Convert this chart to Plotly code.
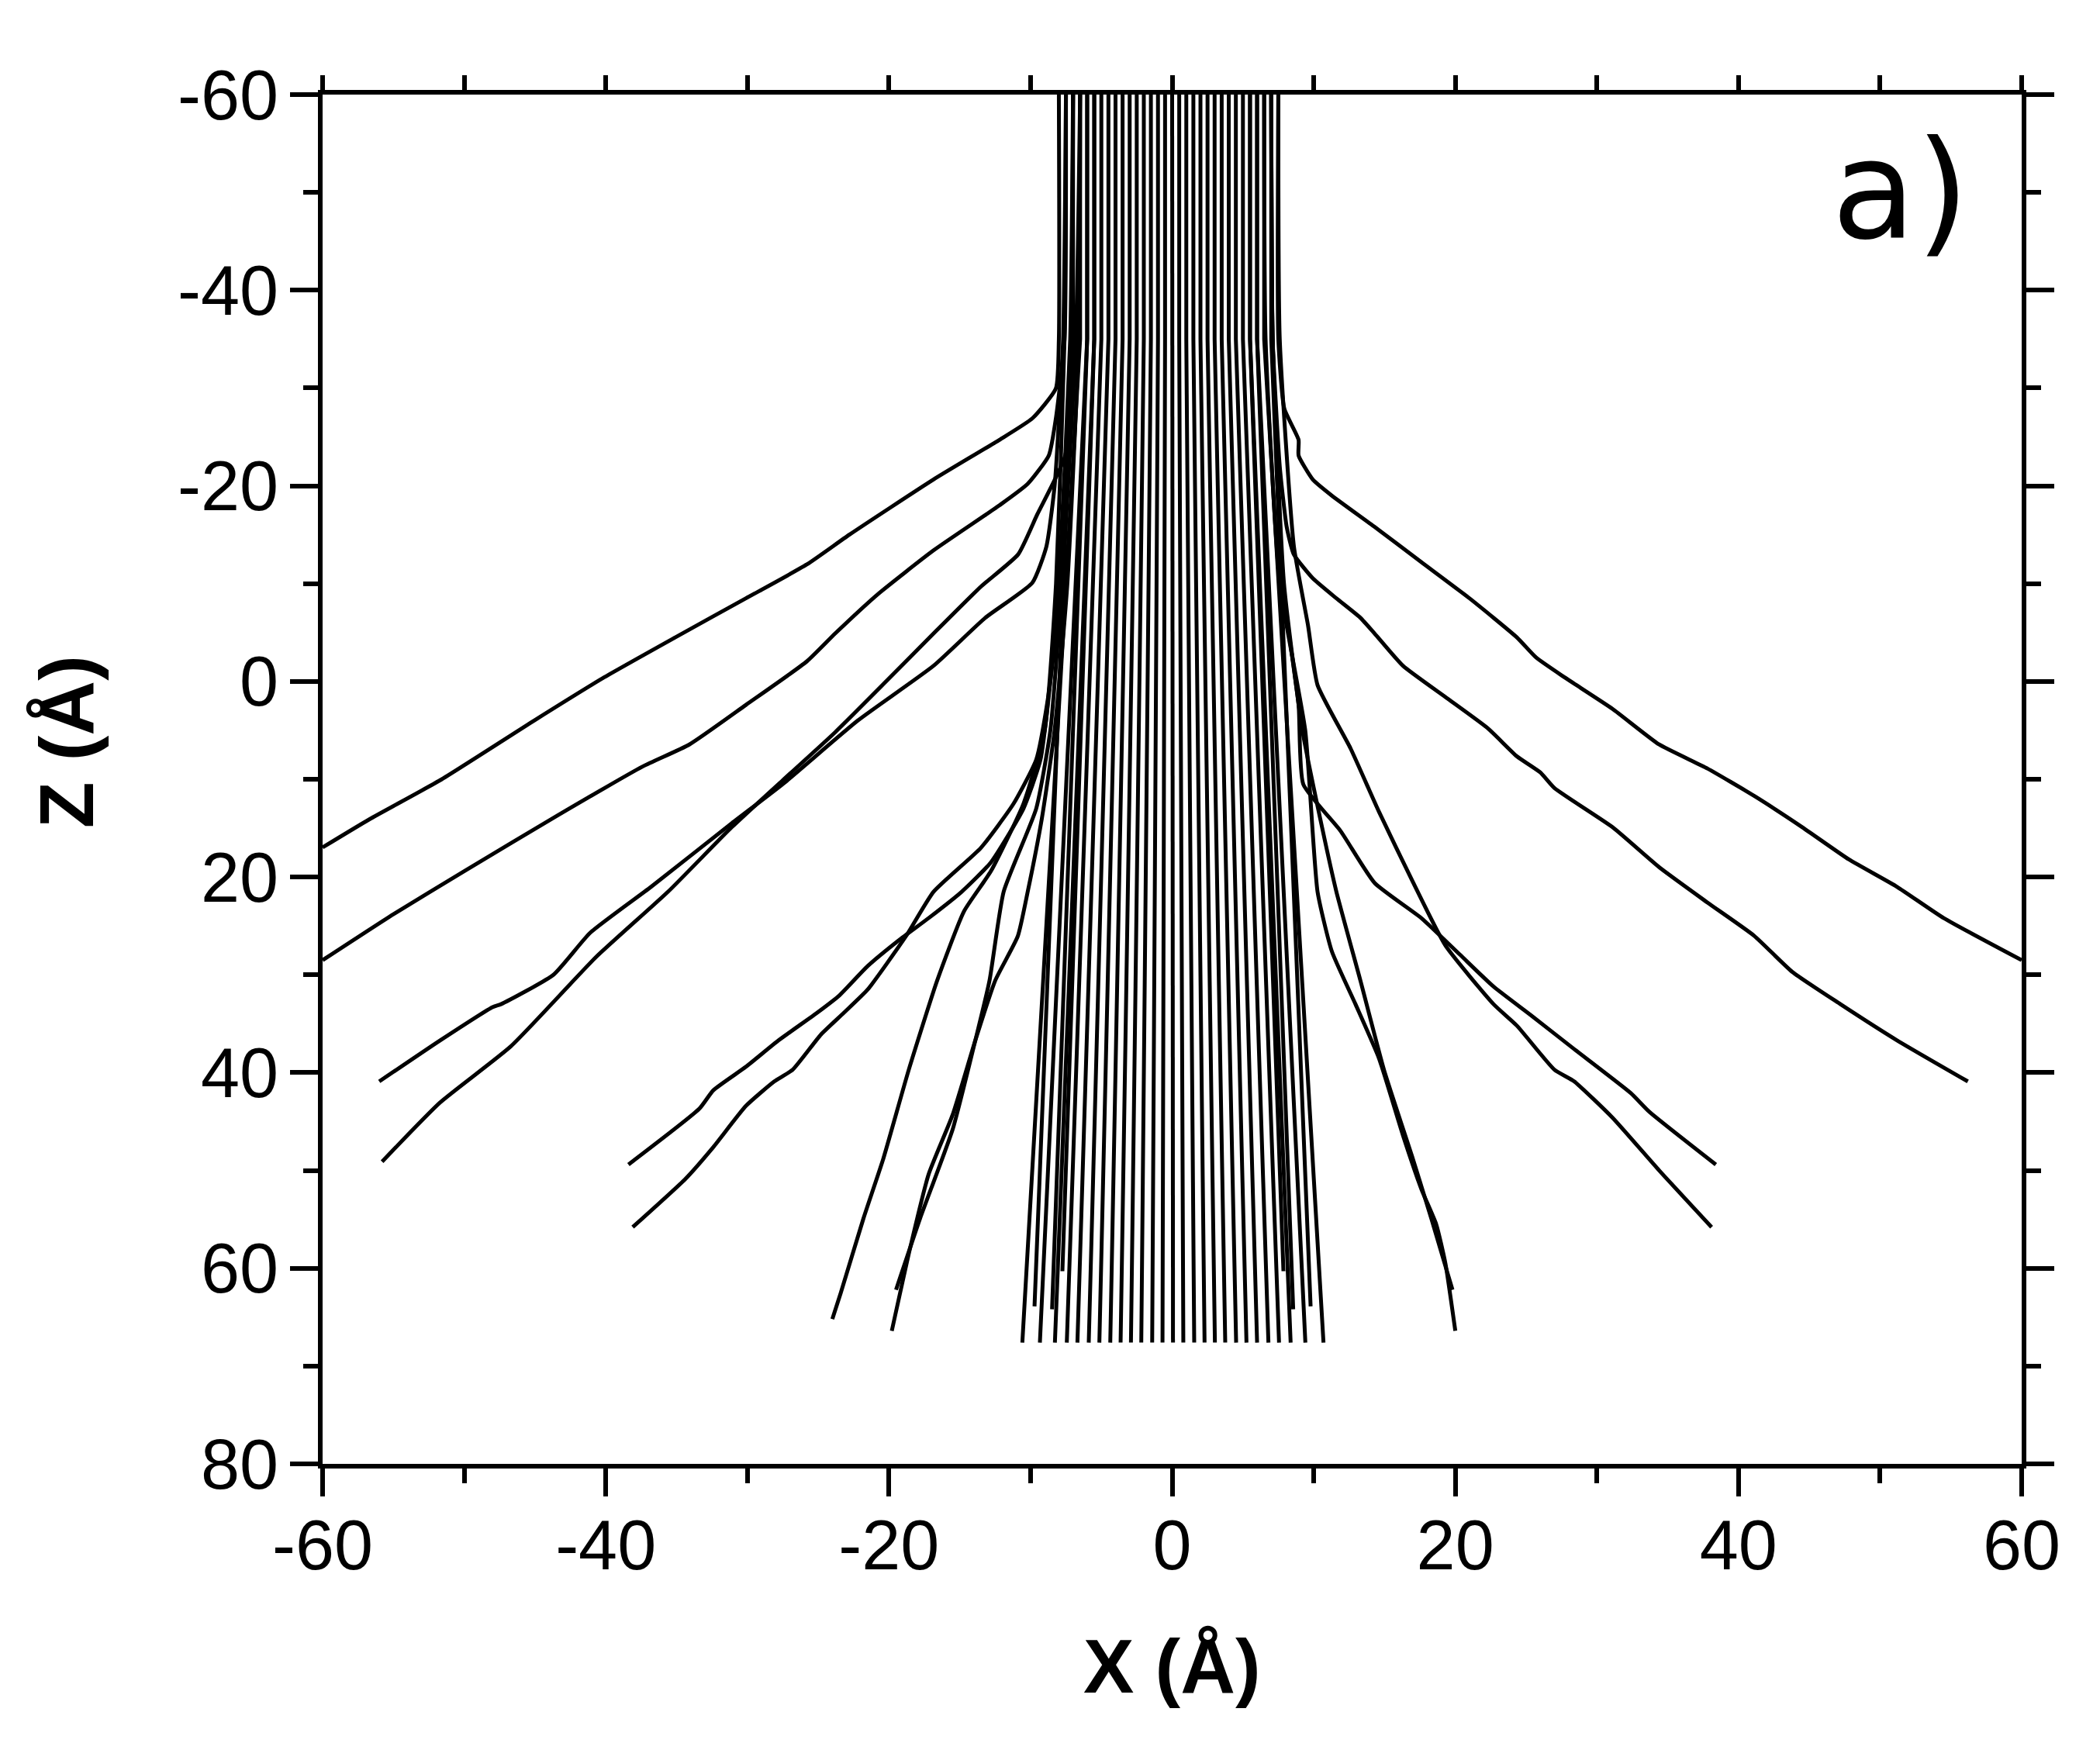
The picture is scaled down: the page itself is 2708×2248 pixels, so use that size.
import plotly.graph_objects as go

# ---------------- data (Å) ----------------
X_TICKS = [-60, -40, -20, 0, 20, 40, 60]
X_TICKTEXT = ["-60", "-40", "-20", "0", "20", "40", "60"]
Z_TICKS = [-60, -40, -20, 0, 20, 40, 60, 80]
Z_TICKTEXT = ["-60", "-40", "-20", "0", "20", "40", "60", "80"]

# channelled beam: entry x, exit x (all enter at z=-60, stay straight to z=-35, exit at z=67.6)
BEAM_ENTRY_Z = -60.0
BEAM_KNEE_Z = -35.0
BEAM_EXIT_Z = 67.6
BEAM_X0 = [-6.5, -6.0, -5.5, -5.0, -4.5, -4.0, -3.5, -3.0, -2.5, -2.0, -1.5, -1.0, -0.5, 0.0,
           0.5, 1.0, 1.5, 2.0, 2.5, 3.0, 3.5, 4.0, 4.5, 5.0, 5.5, 6.0, 6.5]
BEAM_X_END = [-10.58, -9.34, -8.28, -7.44, -6.69, -5.89, -5.14, -4.37, -3.64, -2.91, -2.18, -1.41,
              -0.68, 0.06, 0.79, 1.56, 2.29, 3.02, 3.75, 4.52, 5.25, 6.00, 6.80, 7.55, 8.37, 9.41, 10.69]

# trajectories stopping a little earlier near the beam edge
SHORT_X0 = [-7.0, -6.0, -5.5, 5.5, 6.0, 7.0]
SHORT_X_END = [-9.72, -8.48, -7.75, 7.86, 8.55, 9.78]
SHORT_Z_END = [63.9, 64.2, 60.3, 60.3, 64.2, 63.9]

# scattered trajectories (left side)
TRAJ_A_X = [-8.0, -8.0, -8.21, -9.87, -12.2, -16.85, -22.8, -25.8, -30.1, -35.1, -40.1, -45.06, -51.7, -56.7, -60.0]
TRAJ_A_Z = [-60, -35, -29.96, -26.9, -24.7, -20.65, -15.0, -11.96, -8.5, -4.5, -0.43, 4.0, 10.1, 14.1, 16.97]

TRAJ_B_X = [-7.5, -7.6, -8.2, -8.71, -10.2, -12.2, -16.85, -20.8, -23.8, -25.8, -30.1, -34.1, -37.4, -43.4, -50.0, -55.0, -60.0]
TRAJ_B_Z = [-60, -35, -27, -23.1, -20.2, -18.0, -13.4, -8.9, -4.9, -2.05, 2.4, 6.45, 8.7, 13.7, 19.4, 23.8, 28.5]

TRAJ_C_X = [-7.5, -7.7, -8.3, -8.88, -9.87, -13.2, -16.85, -22.2, -27.5, -31.1, -36.8, -41.1, -43.7, -47.4, -48.0, -51.7, -56.0]
TRAJ_C_Z = [-60, -35, -20, -13.8, -10.1, -6.5, -1.6, 4.0, 10.5, 14.5, 21.0, 25.7, 30.0, 33.0, 33.3, 36.7, 40.9]

TRAJ_D_X = [-7.0, -7.1, -7.55, -9.55, -10.87, -13.5, -16.85, -20.2, -23.8, -27.5, -31.1, -35.6, -40.7, -46.7, -51.7, -55.8]
TRAJ_D_Z = [-60, -35, -23.1, -17.0, -13.0, -9.7, -4.9, 0.0, 5.2, 10.1, 14.9, 21.5, 28.2, 37.3, 43.05, 49.1]

TRAJ_E_X = [-7.0, -7.2, -8.0, -8.6, -9.3, -10.5, -12.8, -14.86, -17.2, -19.2, -21.5, -23.5, -25.1, -27.8, -30.1, -32.4, -33.4, -38.4]
TRAJ_E_Z = [-60, -35, -10, 0, 8, 13, 18.5, 21.5, 24.2, 26.35, 29.1, 32.1, 33.9, 36.7, 39.4, 41.8, 43.7, 49.4]

TRAJ_F_X = [-6.5, -6.8, -7.8, -8.8, -9.6, -11.2, -13.5, -16.85, -18.8, -21.5, -23.2, -24.8, -26.8, -28.1, -30.1, -32.4, -34.4, -38.1]
TRAJ_F_Z = [-60, -35, -10, 2, 8, 12.5, 17, 21.5, 26.05, 31.5, 33.9, 36.1, 39.7, 40.9, 43.4, 47.6, 50.9, 55.8]

TRAJ_G_X = [-7.5, -7.6, -8.2, -9.0, -10.5, -12.8, -14.7, -16.6, -18.6, -20.4, -21.8, -23.4, -24.0]
TRAJ_G_Z = [-60, -35, -10, 5, 12.5, 19.4, 23.5, 30.6, 39.7, 48.8, 54.9, 62.5, 65.2]

TRAJ_H1_X = [-7.0, -7.1, -7.8, -8.6, -9.6, -11.9, -12.9, -13.9, -15.5, -17.8, -19.5]
TRAJ_H1_Z = [-60, -35, -10, 5, 13, 21.5, 30.6, 36.7, 45.8, 54.9, 62.2]

TRAJ_H2_X = [-6.5, -6.6, -7.4, -8.3, -9.2, -10.2, -10.9, -12.5, -13.9, -15.5, -17.2, -18.5, -19.8]
TRAJ_H2_Z = [-60, -35, -10, 5, 14, 21.5, 26.05, 30.6, 36.7, 44.3, 50.4, 57.9, 66.4]

# scattered trajectories (right side)
TRAJ_A2_X = [7.5, 7.5, 7.92, 8.93, 8.93, 9.93, 11.28, 14.3, 17.6, 21.0, 24.35, 25.7, 27.7, 31.1, 34.4, 37.8, 41.1, 44.5, 47.8, 51.2, 54.5, 60.0]
TRAJ_A2_Z = [-60, -35, -27.9, -24.7, -23.1, -20.65, -19.0, -15.8, -12.2, -8.5, -4.5, -2.45, -0.43, 2.8, 6.45, 8.9, 11.7, 14.9, 18.2, 21.0, 24.2, 28.5]

TRAJ_C2_X = [7.0, 7.1, 7.6, 8.09, 8.59, 9.93, 11.6, 13.3, 14.3, 16.3, 19.3, 22.3, 24.35, 26.0, 27.0, 31.1, 34.4, 37.8, 41.1, 43.8, 47.2, 51.2, 56.2]
TRAJ_C2_Z = [-60, -35, -22, -15.8, -13.0, -10.55, -8.5, -6.5, -4.9, -1.6, 1.6, 4.8, 7.66, 9.3, 10.9, 14.9, 19.0, 22.6, 26.0, 29.7, 33.0, 36.7, 40.9]

TRAJ_E2_X = [7.0, 7.1, 7.8, 8.93, 9.26, 11.9, 14.3, 17.6, 20.3, 22.7, 25.4, 28.4, 32.4, 33.7, 38.4]
TRAJ_E2_Z = [-60, -35, -10, 2.4, 10.5, 15.3, 20.6, 24.2, 27.9, 31.2, 34.2, 37.6, 42.1, 44.0, 49.4]

TRAJ_F2_X = [7.5, 7.6, 8.6, 9.6, 10.27, 12.6, 14.6, 17.0, 19.3, 22.7, 24.35, 27.0, 28.4, 31.1, 34.4, 38.1]
TRAJ_F2_Z = [-60, -35, -13.8, -5.7, 0.38, 6.85, 13.3, 20.5, 27.0, 33.0, 35.2, 39.7, 40.9, 44.6, 50.0, 55.8]

TRAJ_G2_X = [6.5, 6.6, 7.6, 9.4, 10.27, 11.28, 12.95, 14.6, 16.3, 17.6, 18.65, 19.3, 20.0]
TRAJ_G2_Z = [-60, -35, -10, 5, 21.5, 27.6, 33.0, 38.5, 46.4, 51.9, 55.5, 59.5, 66.4]

TRAJ_H3_X = [7.0, 7.1, 7.9, 9.2, 10.6, 11.6, 13.3, 14.96, 17.0, 18.3, 19.8]
TRAJ_H3_Z = [-60, -35, -10, 5, 15, 21.5, 30.6, 39.7, 48.8, 54.9, 62.2]

SCATTERED = [
    (TRAJ_A_X, TRAJ_A_Z), (TRAJ_B_X, TRAJ_B_Z), (TRAJ_C_X, TRAJ_C_Z), (TRAJ_D_X, TRAJ_D_Z),
    (TRAJ_E_X, TRAJ_E_Z), (TRAJ_F_X, TRAJ_F_Z), (TRAJ_G_X, TRAJ_G_Z), (TRAJ_H1_X, TRAJ_H1_Z),
    (TRAJ_H2_X, TRAJ_H2_Z), (TRAJ_A2_X, TRAJ_A2_Z), (TRAJ_C2_X, TRAJ_C2_Z), (TRAJ_E2_X, TRAJ_E2_Z),
    (TRAJ_F2_X, TRAJ_F2_Z), (TRAJ_G2_X, TRAJ_G2_Z), (TRAJ_H3_X, TRAJ_H3_Z),
]

# ---------------- figure ----------------
LINE = dict(color="black", width=5)
SMOOTH_LINE = dict(color="black", width=5, shape="spline", smoothing=0.5)
fig = go.Figure()

for x0, xe in zip(BEAM_X0, BEAM_X_END):
    fig.add_trace(go.Scatter(x=[x0, x0, xe], y=[BEAM_ENTRY_Z, BEAM_KNEE_Z, BEAM_EXIT_Z],
                             mode="lines", line=LINE, showlegend=False, hoverinfo="skip"))

for x0, xe, ze in zip(SHORT_X0, SHORT_X_END, SHORT_Z_END):
    fig.add_trace(go.Scatter(x=[x0, x0, xe], y=[BEAM_ENTRY_Z, BEAM_KNEE_Z, ze],
                             mode="lines", line=LINE, showlegend=False, hoverinfo="skip"))

for xs, zs in SCATTERED:
    fig.add_trace(go.Scatter(x=xs, y=zs, mode="lines", line=SMOOTH_LINE,
                             showlegend=False, hoverinfo="skip"))

# invisible trace to anchor the top (mirror) axis
fig.add_trace(go.Scatter(x=[None], y=[None], xaxis="x2", yaxis="y", mode="lines",
                         showlegend=False, hoverinfo="skip"))

TICKFONT = dict(family="Liberation Sans, Arial, sans-serif", size=90, color="black")
MINOR = dict(tickmode="linear", tick0=0, dtick=10, ticks="outside", ticklen=19,
             tickwidth=6, tickcolor="black", showgrid=False)

fig.update_layout(
    width=2708, height=2248,
    margin=dict(l=416, r=101, t=122, b=360),
    paper_bgcolor="white", plot_bgcolor="white",
    xaxis=dict(range=[-60, 60], tickmode="array", tickvals=X_TICKS, ticktext=X_TICKTEXT,
               showline=True, linewidth=6, linecolor="black", mirror=False,
               ticks="outside", ticklen=36, tickwidth=6, tickcolor="black",
               showgrid=False, zeroline=False, tickfont=TICKFONT, ticklabelstandoff=-14,
               minor=MINOR),
    xaxis2=dict(range=[-60, 60], overlaying="x", anchor="y", side="top",
                tickmode="array", tickvals=X_TICKS, showticklabels=False,
                showline=True, linewidth=6, linecolor="black",
                ticks="outside", ticklen=19, tickwidth=6, tickcolor="black",
                showgrid=False, zeroline=False, minor=MINOR),
    yaxis=dict(range=[80, -60], tickmode="array", tickvals=Z_TICKS, ticktext=Z_TICKTEXT,
               showline=True, linewidth=6, linecolor="black", mirror="ticks",
               ticks="outside", ticklen=36, tickwidth=6, tickcolor="black",
               showgrid=False, zeroline=False, tickfont=TICKFONT, ticklabelstandoff=-3,
               minor=MINOR),
    annotations=[
        dict(text="<b>X (Å)</b>", xref="paper", yref="paper", x=0.5, y=-0.148,
             xanchor="center", yanchor="middle", showarrow=False,
             font=dict(family="Liberation Sans, Arial, sans-serif", size=98, color="black")),
        dict(text="<b>Z (Å)</b>", xref="paper", yref="paper", x=-0.1506, y=0.527,
             xanchor="center", yanchor="middle", textangle=-90, showarrow=False,
             font=dict(family="Liberation Sans, Arial, sans-serif", size=98, color="black")),
        dict(text="a)", xref="paper", yref="paper", x=0.929, y=0.930,
             xanchor="center", yanchor="middle", showarrow=False,
             font=dict(family="DejaVu Sans, Verdana, sans-serif", size=177, color="black")),
    ],
)

fig.write_html("out.html", config={"displayModeBar": False},
               post_script="document.body.style.margin='0';")
